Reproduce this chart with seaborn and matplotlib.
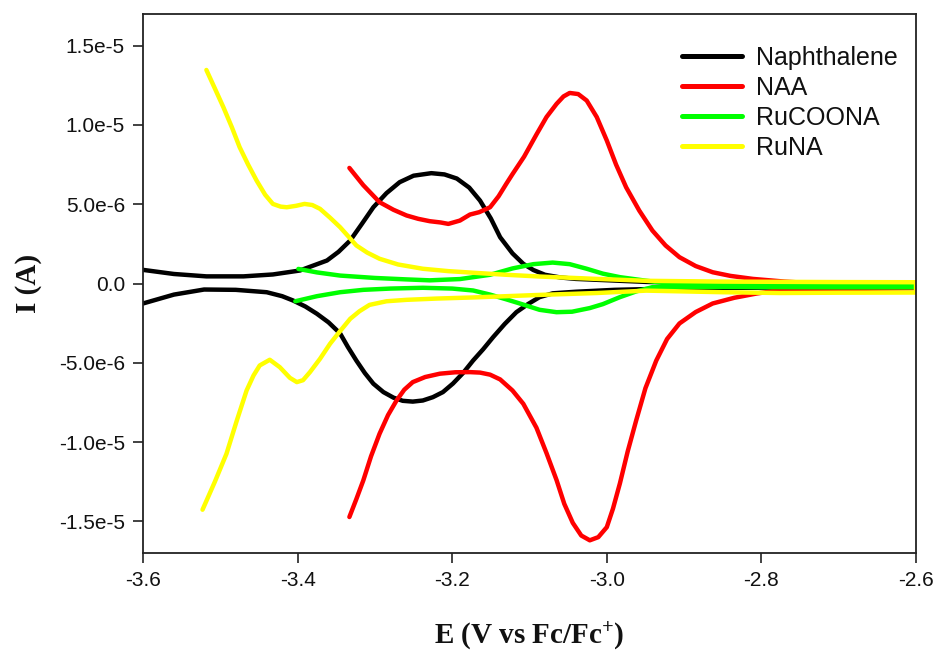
import numpy as np
import pandas as pd
import matplotlib
matplotlib.use("Agg")
import matplotlib.pyplot as plt
from matplotlib.ticker import FixedLocator
import seaborn as sns

# Cyclic voltammograms: potential E (V vs Fc/Fc+) and current I (microamps).
# Each trace runs along the upper branch left->right, then back along the lower branch.
naph_E = [-3.600, -3.560, -3.518, -3.470, -3.432, -3.397, -3.362, -3.347, -3.332, -3.317,
          -3.302, -3.285, -3.268, -3.250, -3.227, -3.210, -3.194, -3.178, -3.164, -3.150,
          -3.138, -3.122, -3.108, -3.095, -3.080, -3.060, -3.040, -2.949, -2.850, -2.700,
          -2.600,
          -2.600, -2.750, -2.900, -2.990, -3.040, -3.070, -3.087, -3.102, -3.117, -3.132,
          -3.147, -3.160, -3.173, -3.186, -3.199, -3.212, -3.225, -3.238, -3.251, -3.264,
          -3.276, -3.289, -3.302, -3.313, -3.324, -3.335, -3.345, -3.360, -3.375, -3.390,
          -3.406, -3.420, -3.440, -3.480, -3.521, -3.560, -3.600]
naph_I = [0.86, 0.60, 0.45, 0.45, 0.57, 0.82, 1.45, 2.00, 2.71, 3.75,
          4.81, 5.70, 6.39, 6.80, 6.96, 6.88, 6.62, 6.05, 5.23, 4.10,
          2.92, 1.90, 1.24, 0.85, 0.55, 0.38, 0.29, 0.10, 0.00, -0.05,
          -0.08,
          -0.20, -0.24, -0.30, -0.40, -0.52, -0.62, -0.86, -1.30, -1.81, -2.55,
          -3.38, -4.15, -4.86, -5.65, -6.31, -6.85, -7.17, -7.38, -7.45, -7.40,
          -7.20, -6.85, -6.32, -5.65, -4.86, -4.00, -3.15, -2.45, -1.91, -1.45,
          -1.07, -0.80, -0.55, -0.40, -0.38, -0.70, -1.26]

naa_E = [-3.333, -3.315, -3.294, -3.276, -3.259, -3.244, -3.229, -3.215, -3.205, -3.190,
         -3.177, -3.165, -3.151, -3.140, -3.130, -3.122, -3.107, -3.091, -3.078, -3.065,
         -3.056, -3.048, -3.037, -3.026, -3.013, -3.000, -2.988, -2.975, -2.958, -2.941,
         -2.924, -2.906, -2.885, -2.863, -2.840, -2.811, -2.770, -2.734, -2.670, -2.600,
         -2.600, -2.700, -2.780, -2.806, -2.835, -2.863, -2.885, -2.906, -2.922, -2.936,
         -2.950, -2.962, -2.973, -2.983, -2.992, -3.000, -3.011, -3.022, -3.033, -3.044,
         -3.055, -3.065, -3.078, -3.091, -3.108, -3.122, -3.138, -3.151, -3.164, -3.177,
         -3.196, -3.216, -3.235, -3.251, -3.262, -3.272, -3.283, -3.294, -3.305, -3.315,
         -3.324, -3.333]
naa_I = [7.29, 6.20, 5.13, 4.65, 4.29, 4.08, 3.93, 3.85, 3.76, 3.97,
         4.35, 4.50, 4.81, 5.50, 6.29, 6.90, 8.00, 9.40, 10.50, 11.33,
         11.80, 12.02, 11.95, 11.54, 10.50, 9.02, 7.50, 6.07, 4.60, 3.34,
         2.40, 1.66, 1.10, 0.71, 0.48, 0.29, 0.12, 0.02, -0.06, -0.10,
         -0.30, -0.35, -0.45, -0.63, -0.90, -1.26, -1.80, -2.52, -3.50, -4.86,
         -6.60, -8.64, -10.60, -12.60, -14.20, -15.37, -16.00, -16.20, -15.90, -15.10,
         -13.90, -12.40, -10.70, -9.10, -7.59, -6.75, -6.05, -5.75, -5.62, -5.59,
         -5.60, -5.69, -5.90, -6.22, -6.70, -7.38, -8.30, -9.48, -10.90, -12.42,
         -13.60, -14.73]

rucoona_E = [-3.399, -3.375, -3.345, -3.300, -3.260, -3.229, -3.190, -3.151, -3.122, -3.095,
             -3.070, -3.048, -3.026, -3.005, -2.983, -2.950, -2.928, -2.850, -2.700, -2.600,
             -2.600, -2.700, -2.850, -2.941, -2.962, -2.983, -3.005, -3.022, -3.045, -3.065,
             -3.087, -3.110, -3.130, -3.151, -3.173, -3.200, -3.238, -3.280, -3.315, -3.345,
             -3.375, -3.403]
rucoona_I = [0.92, 0.70, 0.50, 0.35, 0.26, 0.20, 0.28, 0.55, 0.95, 1.22,
             1.32, 1.22, 0.93, 0.62, 0.40, 0.18, 0.05, -0.02, -0.05, -0.06,
             -0.24, -0.24, -0.22, -0.23, -0.50, -0.86, -1.30, -1.55, -1.78, -1.81,
             -1.66, -1.30, -1.00, -0.70, -0.44, -0.32, -0.27, -0.32, -0.40, -0.55,
             -0.80, -1.12]

runa_E = [-3.518, -3.507, -3.496, -3.485, -3.475, -3.464, -3.453, -3.442, -3.432, -3.422,
          -3.414, -3.402, -3.391, -3.381, -3.371, -3.358, -3.345, -3.334, -3.324, -3.310,
          -3.294, -3.270, -3.238, -3.205, -3.173, -3.130, -3.087, -3.013, -2.949, -2.850,
          -2.700, -2.600,
          -2.600, -2.700, -2.776, -2.850, -2.949, -3.013, -3.087, -3.173, -3.220, -3.259,
          -3.285, -3.307, -3.320, -3.332, -3.345, -3.358, -3.371, -3.384, -3.393, -3.401,
          -3.410, -3.423, -3.436, -3.449, -3.457, -3.466, -3.479, -3.492, -3.507, -3.523]
runa_I = [13.47, 12.30, 11.12, 9.85, 8.60, 7.50, 6.49, 5.60, 5.02, 4.85,
          4.81, 4.90, 5.02, 4.95, 4.71, 4.15, 3.55, 2.95, 2.40, 1.95,
          1.56, 1.20, 0.93, 0.78, 0.68, 0.55, 0.44, 0.29, 0.17, 0.12,
          0.09, 0.08,
          -0.57, -0.58, -0.60, -0.55, -0.45, -0.60, -0.72, -0.88, -0.95, -1.03,
          -1.12, -1.35, -1.75, -2.23, -3.00, -3.80, -4.75, -5.59, -6.10, -6.22,
          -5.95, -5.28, -4.81, -5.17, -5.80, -6.75, -8.70, -10.74, -12.50, -14.27]

compounds = ["Naphthalene", "NAA", "RuCOONA", "RuNA"]
colors = ["#000000", "#FF0000", "#00FF00", "#FFFF00"]

x_ticks = [-3.6, -3.4, -3.2, -3.0, -2.8, -2.6]
x_ticklabels = ["-3.6", "-3.4", "-3.2", "-3.0", "-2.8", "-2.6"]
y_ticks = [1.5e-5, 1.0e-5, 5.0e-6, 0.0, -5.0e-6, -1.0e-5, -1.5e-5]
y_ticklabels = ["1.5e-5", "1.0e-5", "5.0e-6", "0.0", "-5.0e-6", "-1.0e-5", "-1.5e-5"]

traces = [(naph_E, naph_I), (naa_E, naa_I), (rucoona_E, rucoona_I), (runa_E, runa_I)]
frames = []
for name, (e, i) in zip(compounds, traces):
    frames.append(pd.DataFrame({"E": e, "I": np.asarray(i) * 1e-6, "compound": name}))
df = pd.concat(frames, ignore_index=True)

sns.set_style("white")
plt.rcParams["font.family"] = ["Liberation Sans", "DejaVu Sans"]
plt.rcParams["axes.unicode_minus"] = False
plt.rcParams["mathtext.default"] = "regular"
plt.rcParams["text.color"] = "#111111"
plt.rcParams["xtick.color"] = "#222222"
plt.rcParams["ytick.color"] = "#222222"

fig = plt.figure(figsize=(9.35, 6.51), dpi=100)
ax = fig.add_axes([143 / 935, 1 - 553 / 651, (916 - 143) / 935, (553 - 14) / 651])

sns.lineplot(data=df, x="E", y="I", hue="compound", hue_order=compounds,
             palette=dict(zip(compounds, colors)), sort=False, estimator=None,
             linewidth=3.2, ax=ax)

ax.set_xlim(-3.6, -2.6)
ax.set_ylim(-1.7e-5, 1.7e-5)
ax.xaxis.set_major_locator(FixedLocator(x_ticks))
ax.set_xticklabels(x_ticklabels)
ax.yaxis.set_major_locator(FixedLocator(y_ticks))
ax.set_yticklabels(y_ticklabels)
ax.tick_params(axis="both", which="major", direction="out", length=7, width=1.2,
               labelsize=15, labelcolor="#111111", pad=6, bottom=True, left=True,
               top=False, right=False)

for side in ["left", "right", "top", "bottom"]:
    ax.spines[side].set_visible(True)
    ax.spines[side].set_color("#222222")
    ax.spines[side].set_linewidth(1.3)

label_font = dict(family=["Liberation Serif", "DejaVu Serif"], weight="bold", size=21,
                  color="#111111")
ax.set_xlabel("E (V vs Fc/Fc$^{+}$)", fontdict=label_font, labelpad=22)
ax.set_ylabel("I (A)", fontdict=label_font, labelpad=12)

handles, labels = ax.get_legend_handles_labels()
for h in handles:
    h.set_linewidth(3.6)
ax.legend(handles, labels, loc="upper left", bbox_to_anchor=(682 / 935, 1 - 46 / 651),
          bbox_transform=fig.transFigure, frameon=False, fontsize=18, borderpad=0,
          handlelength=2.4, handletextpad=0.55, labelspacing=0.24, borderaxespad=0)

fig.savefig("out.png", dpi=100)
